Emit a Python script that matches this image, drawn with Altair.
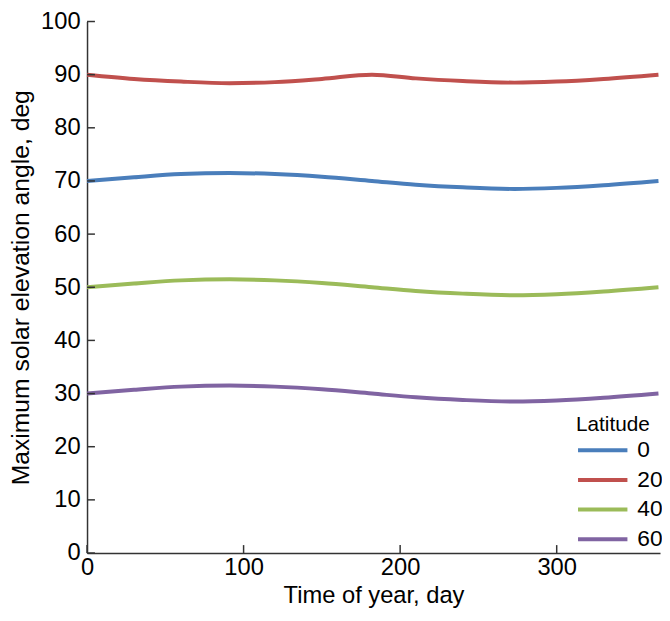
import altair as alt
import pandas as pd

days = [0, 30, 60, 91, 120, 150, 182, 210, 240, 273, 300, 330, 365]
lat0 = [70, 70.7, 71.3, 71.5, 71.3, 70.8, 70, 69.3, 68.8, 68.5, 68.7, 69.2, 70]
lat20 = [90, 89.2, 88.7, 88.4, 88.6, 89.2, 90, 89.3, 88.8, 88.5, 88.7, 89.2, 90]
lat40 = [50, 50.7, 51.3, 51.5, 51.3, 50.8, 50, 49.3, 48.8, 48.5, 48.7, 49.2, 50]
lat60 = [30, 30.7, 31.3, 31.5, 31.3, 30.8, 30, 29.3, 28.8, 28.5, 28.7, 29.2, 30]
latitudes = ["0", "20", "40", "60"]
colors = ["#4a7ebb", "#c0504d", "#9bbb59", "#8064a2"]
x_ticks = [0, 100, 200, 300]
y_ticks = [0, 10, 20, 30, 40, 50, 60, 70, 80, 90, 100]

rows = []
for lat, vals in zip(latitudes, [lat0, lat20, lat40, lat60]):
    for d, v in zip(days, vals):
        rows.append({"day": d, "angle": v, "Latitude": lat})
df = pd.DataFrame(rows)

W, H = 580, 538
FONT = "Liberation Sans"
FS = 24
xscale = alt.Scale(domain=[0, 366], nice=False, zero=False)
yscale = alt.Scale(domain=[0, 100], nice=False)

xaxis = alt.Axis(title="Time of year, day", values=x_ticks,
                 ticks=False, grid=False, labelPadding=3, titlePadding=4,
                 labelFontSize=FS, titleFontSize=24, labelFont=FONT, titleFont=FONT,
                 labelColor="black", titleColor="black", titleFontWeight="normal",
                 domainColor="#333333", domainWidth=1.5, labelFlush=False)
yaxis = alt.Axis(title="Maximum solar elevation angle, deg", values=y_ticks,
                 ticks=False, grid=False, labelPadding=7, titlePadding=7,
                 labelFontSize=FS, titleFontSize=25, labelFont=FONT, titleFont=FONT,
                 labelColor="black", titleColor="black", titleFontWeight="normal",
                 domainColor="#333333", domainWidth=1.5)

lines = alt.Chart(df).mark_line(strokeWidth=4, interpolate="monotone").encode(
    x=alt.X("day:Q", scale=xscale, axis=xaxis),
    y=alt.Y("angle:Q", scale=yscale, axis=yaxis),
    color=alt.Color("Latitude:N", scale=alt.Scale(domain=latitudes, range=colors),
                    legend=alt.Legend(orient="none", legendX=495, legendY=398,
                                      symbolType="stroke", symbolSize=2500, symbolStrokeWidth=4,
                                      clipHeight=22, rowPadding=7,
                                      titleFontSize=21, labelFontSize=23, titleFont=FONT, labelFont=FONT,
                                      titleFontWeight="normal", titleColor="black", labelColor="black",
                                      labelOffset=8, titlePadding=4)),
)

ytick_df = pd.DataFrame({"v": y_ticks})
xtick_df = pd.DataFrame({"v": x_ticks})

yt = alt.Chart(ytick_df).mark_rule(color="#333333", strokeWidth=1.5).encode(
    y=alt.Y("v:Q", scale=yscale, axis=yaxis),
    x=alt.value(0), x2=alt.value(8),
)
xt = alt.Chart(xtick_df).mark_rule(color="#333333", strokeWidth=1.5).encode(
    x=alt.X("v:Q", scale=xscale, axis=xaxis),
    y=alt.value(H), y2=alt.value(H - 8),
)

chart = alt.layer(lines, yt, xt).properties(
    width=W, height=H,
    autosize=alt.AutoSizeParams(type="none"),
    padding={"left": 80, "top": 10, "right": 2, "bottom": 53},
).configure_view(stroke=None)

chart.save("out.html", embed_options={"renderer": "svg", "actions": False})
